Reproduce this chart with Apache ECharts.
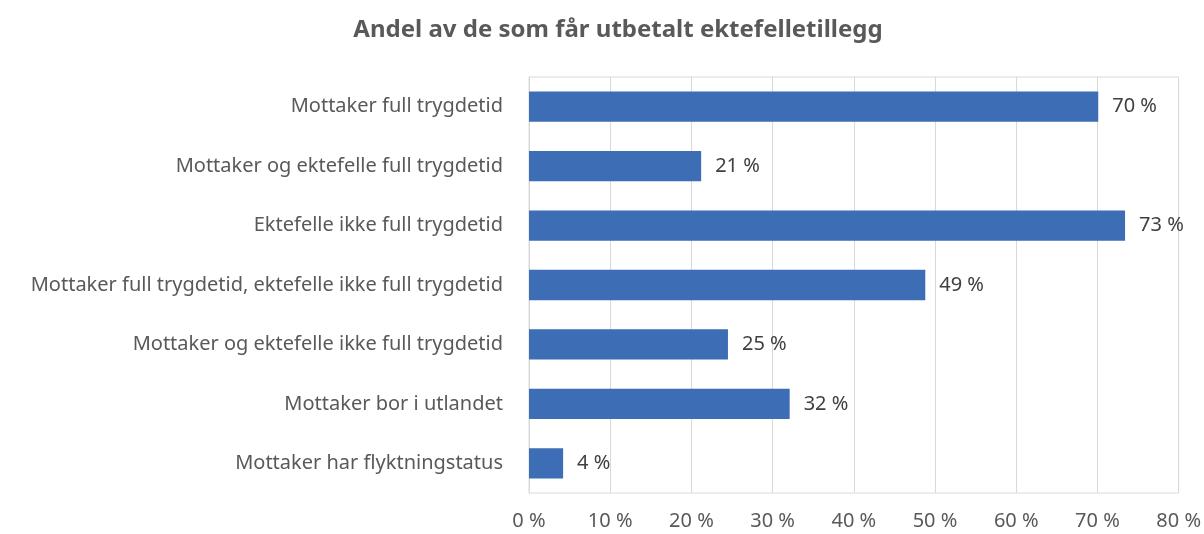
<!DOCTYPE html>
<html>
<head>
<meta charset="utf-8">
<script src="https://cdn.jsdelivr.net/npm/echarts@6/dist/echarts.min.js"></script>
<style>
html,body{margin:0;padding:0;background:#fff;}
#chart{width:1204px;height:534px;}
</style>
</head>
<body>
<div id="chart"></div>
<script>
// data
var categories = [
    'Mottaker full trygdetid',
    'Mottaker og ektefelle full trygdetid',
    'Ektefelle ikke full trygdetid',
    'Mottaker full trygdetid, ektefelle ikke full trygdetid',
    'Mottaker og ektefelle ikke full trygdetid',
    'Mottaker bor i utlandet',
    'Mottaker har flyktningstatus'
];
var values = [70.1, 21.2, 73.4, 48.8, 24.5, 32.1, 4.2];
var valueLabels = ['70 %', '21 %', '73 %', '49 %', '25 %', '32 %', '4 %'];

var fontName = '"Noto Sans", "Liberation Sans", sans-serif';

var chart = echarts.init(document.getElementById('chart'));
var option = {
    animation: false,
    title: {
        text: 'Andel av de som får utbetalt ektefelletillegg',
        left: 613,
        textAlign: 'center',
        top: 13,
        textStyle: {
            fontFamily: fontName,
            fontSize: 24,
            fontWeight: 'bold',
            color: '#595959'
        }
    },
    grid: {
        left: 529,
        right: 25,
        top: 77,
        bottom: 41,
        show: true,
        borderColor: '#d9d9d9',
        borderWidth: 1
    },
    xAxis: {
        type: 'value',
        min: 0,
        max: 80,
        interval: 10,
        axisLine: {show: false},
        axisTick: {show: false},
        splitLine: {lineStyle: {color: '#d9d9d9', width: 1}},
        axisLabel: {
            margin: 18,
            fontFamily: fontName,
            fontSize: 20,
            color: '#595959',
            formatter: '{value} %'
        }
    },
    yAxis: {
        type: 'category',
        inverse: true,
        data: categories,
        axisLine: {show: true, lineStyle: {color: '#d9d9d9'}},
        axisTick: {show: false},
        axisLabel: {
            margin: 26,
            fontFamily: fontName,
            fontSize: 20,
            color: '#595959'
        }
    },
    series: [{
        type: 'bar',
        data: values,
        barCategoryGap: '49%',
        itemStyle: {color: '#3c6db5'},
        label: {
            show: true,
            position: 'right',
            distance: 14,
            fontFamily: fontName,
            fontSize: 20,
            color: '#404040',
            formatter: function (p) { return valueLabels[p.dataIndex]; }
        }
    }]
};
chart.setOption(option);
</script>
</body>
</html>
